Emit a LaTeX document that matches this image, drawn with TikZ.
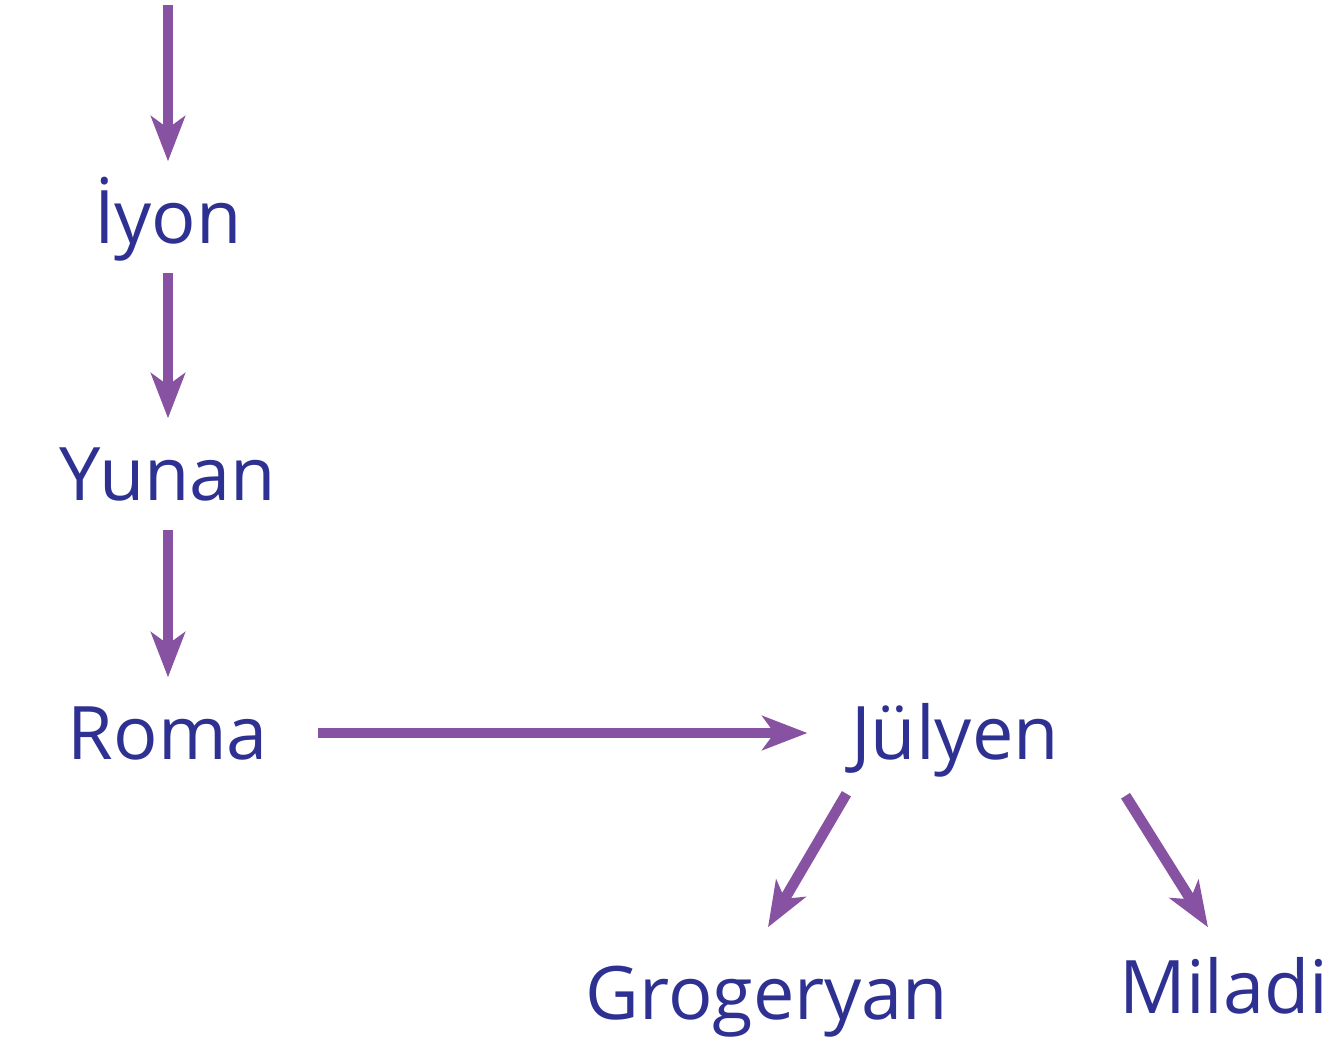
\documentclass[tikz,border=0pt]{standalone}
\usepackage{fontspec}
\setmainfont{Open Sans}
\usetikzlibrary{arrows.meta,positioning}
\definecolor{eraText}{RGB}{46,49,146}
\definecolor{eraArrow}{RGB}{134,82,161}
\begin{document}
\begin{tikzpicture}[x=0.01cm,y=-0.01cm,>={Stealth[length=0.45cm,width=0.34cm,inset=0.12cm]}]

    \tikzstyle{era}=[font=\fontsize{21}{25}\selectfont, text=eraText, text height=0.53cm, text depth=0pt, inner xsep=0.33cm, inner ysep=0.285cm]
    \tikzstyle{pre}=[<-, line width=3pt, draw=eraArrow]
    \tikzstyle{post}=[->, line width=3pt, draw=eraArrow]

    \useasboundingbox (0,0) rectangle (1335,1044);

    % Calendar chain
    \coordinate (top) at (168,5);
    \node at (168,217) [era] (iyon)  {İyon}
        edge  [pre]   (top);
    \node at (168,474) [era] (yunan) {Yunan}
        edge  [pre]   (iyon);
    \node at (168,733) [era] (roma)  {Roma}
        edge  [pre]   (yunan);
    \node at (955,733) [era] (julyen) {Jülyen}
        edge  [pre, shorten <=0.1cm, shorten >=0.16cm]   (roma);

    % Branches
    \node at (767,993)  [era] (grog)   {Grogeryan};
    \node at (1224,987) [era] (miladi) {Miladi};
    \draw [post] ([shift={(29,5)}]julyen.south west) -- ([shift={(1,-10)}]grog.north);
    \draw [post] ([shift={(33,7)}]julyen.south east) -- ([shift={(-16,-4)}]miladi.north);

\end{tikzpicture}
\end{document}
